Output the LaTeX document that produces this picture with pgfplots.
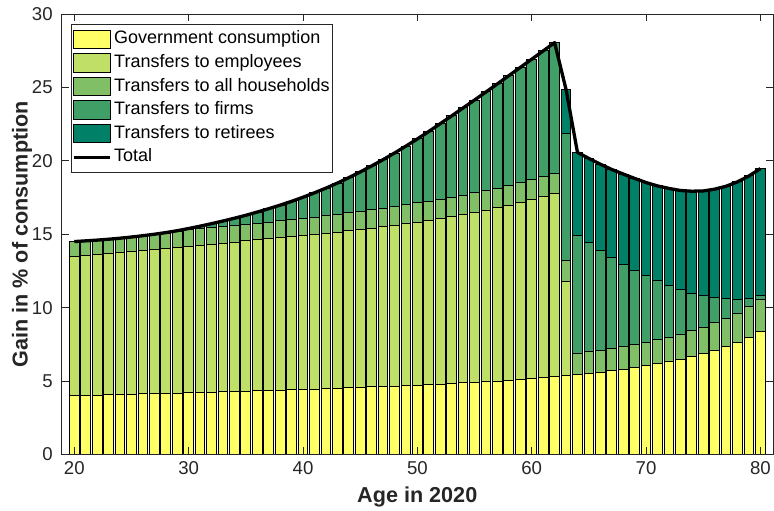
\documentclass[border=0pt]{standalone}
\usepackage{fontspec}
\setmainfont{Liberation Sans}
\usepackage{pgfplots}
\usepackage{pgfplotstable}
\pgfplotsset{compat=1.18}

% summer-like palette
\definecolor{cGov}{rgb}{1,1,0.4}
\definecolor{cEmp}{rgb}{0.75,0.875,0.4}
\definecolor{cHh}{rgb}{0.5,0.75,0.4}
\definecolor{cFirm}{rgb}{0.25,0.625,0.4}
\definecolor{cRet}{rgb}{0,0.5,0.4}
\definecolor{axgray}{rgb}{0.15,0.15,0.15}

% gain components by age (in % of consumption)
\pgfplotstableread{
age gov   emp   hh   firms ret  total
20  4.02  9.48  1.00 0.00  0    14.50
21  4.04  9.53  0.98 0.00  0    14.55
22  4.05  9.59  0.96 0.00  0    14.60
23  4.07  9.63  0.96 0.00  0    14.66
24  4.09  9.68  0.96 0.00  0    14.73
25  4.11  9.73  0.97 0.00  0    14.81
26  4.12  9.79  0.98 0.01  0    14.90
27  4.14  9.84  1.00 0.02  0    15.00
28  4.16  9.89  1.02 0.04  0    15.11
29  4.18  9.94  1.05 0.07  0    15.24
30  4.20  9.99  1.10 0.10  0    15.39
31  4.22  10.04 1.11 0.18  0    15.55
32  4.24  10.09 1.12 0.27  0    15.72
33  4.26  10.14 1.12 0.38  0    15.90
34  4.28  10.19 1.13 0.49  0    16.09
35  4.30  10.24 1.13 0.62  0    16.29
36  4.33  10.28 1.14 0.76  0    16.51
37  4.35  10.34 1.14 0.91  0    16.74
38  4.38  10.38 1.15 1.07  0    16.98
39  4.40  10.44 1.16 1.24  0    17.24
40  4.43  10.48 1.16 1.45  0    17.52
41  4.46  10.53 1.17 1.66  0    17.82
42  4.49  10.58 1.19 1.88  0    18.14
43  4.51  10.64 1.20 2.13  0    18.48
44  4.54  10.70 1.21 2.40  0    18.85
45  4.57  10.76 1.23 2.68  0    19.24
46  4.60  10.82 1.24 2.99  0    19.65
47  4.63  10.89 1.26 3.30  0    20.08
48  4.66  10.96 1.27 3.64  0    20.53
49  4.70  11.02 1.28 4.00  0    21.00
50  4.73  11.10 1.30 4.36  0    21.49
51  4.77  11.17 1.31 4.75  0    22.00
52  4.80  11.26 1.31 5.16  0    22.53
53  4.84  11.35 1.32 5.55  0    23.06
54  4.88  11.45 1.32 5.95  0    23.60
55  4.92  11.56 1.33 6.33  0    24.14
56  4.96  11.68 1.33 6.72  0    24.69
57  5.00  11.80 1.34 7.10  0    25.24
58  5.05  11.92 1.35 7.48  0    25.80
59  5.10  12.05 1.36 7.85  0    26.36
60  5.15  12.19 1.37 8.21  0    26.92
61  5.22  12.33 1.38 8.55  0    27.48
62  5.30  12.47 1.38 8.90  0    28.05
63  5.39  6.38  1.43 8.66  3.00 24.86
64  5.45  0     1.46 8.02  5.64 20.57
65  5.52  0     1.49 7.40  5.75 20.16
66  5.59  0     1.51 6.78  5.89 19.77
67  5.70  0     1.53 6.19  5.99 19.41
68  5.79  0     1.55 5.62  6.14 19.10
69  5.91  0     1.57 5.08  6.24 18.80
70  6.05  0     1.60 4.52  6.35 18.52
71  6.18  0     1.63 4.03  6.45 18.29
72  6.32  0     1.67 3.53  6.60 18.12
73  6.48  0     1.71 3.04  6.75 17.98
74  6.66  0     1.76 2.56  6.95 17.93
75  6.86  0     1.81 2.15  7.13 17.95
76  7.09  0     1.87 1.72  7.39 18.07
77  7.36  0     1.93 1.30  7.68 18.27
78  7.63  0     2.00 0.94  8.00 18.57
79  7.99  0     2.08 0.54  8.36 18.97
80  8.41  0     2.16 0.23  8.67 19.47
}\gains

\pgfplotsset{
  common/.style={
    scale only axis, width=355.75pt, height=220.25pt,
    xmin=18.88, xmax=81.1, ymin=0, ymax=30,
  },
  barleg/.style={legend image code/.code={%
    \draw[##1, draw=black, line width=0.5pt] (0pt,-4.6pt) rectangle (18.3pt,4.6pt);}},
  stackbar/.style={draw=black, line width=0.5pt, fill=#1, barleg},
}

\begin{document}
\begin{tikzpicture}
\begin{axis}[common, name=ax,
  ybar stacked, bar width=0.85,
  axis on top,
  axis line style={axgray, line width=0.4pt},
  tick style={axgray, line width=0.4pt},
  tick align=inside, major tick length=3.55pt,
  xtick={20,30,...,80}, ytick={0,5,...,30},
  tick label style={font=\fontsize{9.3}{11}\selectfont, text=axgray},
  /pgf/number format/assume math mode=true,
  xticklabel style={inner sep=0pt, anchor=north, yshift=-3.5pt},
  yticklabel style={inner sep=0pt, anchor=east, xshift=-4.25pt},
  xlabel={Age in 2020},
  ylabel={Gain in \% of consumption},
  xlabel style={font=\fontsize{10.8}{13}\selectfont\bfseries, text=axgray,
    at={(axis description cs:0.5,-0.0965)}, anchor=center},
  ylabel style={font=\fontsize{10.8}{13}\selectfont\bfseries, text=axgray,
    at={(axis description cs:-0.0555,0.5)}, anchor=center},
  legend cell align=left,
  legend style={
    at={(axis description cs:0,1)}, anchor=north west,
    xshift=4.75pt, yshift=-5pt,
    draw=axgray, line width=0.4pt, fill=white,
    font=\fontsize{9}{10.8}\selectfont, text=black,
    inner xsep=0.3pt, inner ysep=1.6pt, row sep=0pt,
    nodes={inner sep=1.2pt, text height=7pt, text depth=2.4pt},
  },
]
\addplot[stackbar=cGov]  table[x=age, y=gov]   {\gains};
\addlegendentry{Government consumption}
\addplot[stackbar=cEmp]  table[x=age, y=emp]   {\gains};
\addlegendentry{Transfers to employees}
\addplot[stackbar=cHh]   table[x=age, y=hh]    {\gains};
\addlegendentry{Transfers to all households}
\addplot[stackbar=cFirm] table[x=age, y=firms] {\gains};
\addlegendentry{Transfers to firms}
\addplot[stackbar=cRet]  table[x=age, y=ret]   {\gains};
\addlegendentry{Transfers to retirees}
\addlegendimage{legend image code/.code={%
  \draw[black, line width=1.6pt] (0pt,0pt) -- (18.3pt,0pt);}}
\addlegendentry{Total}
\end{axis}

% total gain drawn over the stacked bars
\begin{axis}[common, hide axis]
\addplot[black, line width=1.65pt, line join=round, mark=none]
  table[x=age, y=total] {\gains};
\end{axis}

\pgfresetboundingbox
\path ([xshift=-30.75pt,yshift=-28.25pt]ax.south west)
  rectangle ([xshift=0.5pt,yshift=7pt]ax.north east);
\end{tikzpicture}
\end{document}
